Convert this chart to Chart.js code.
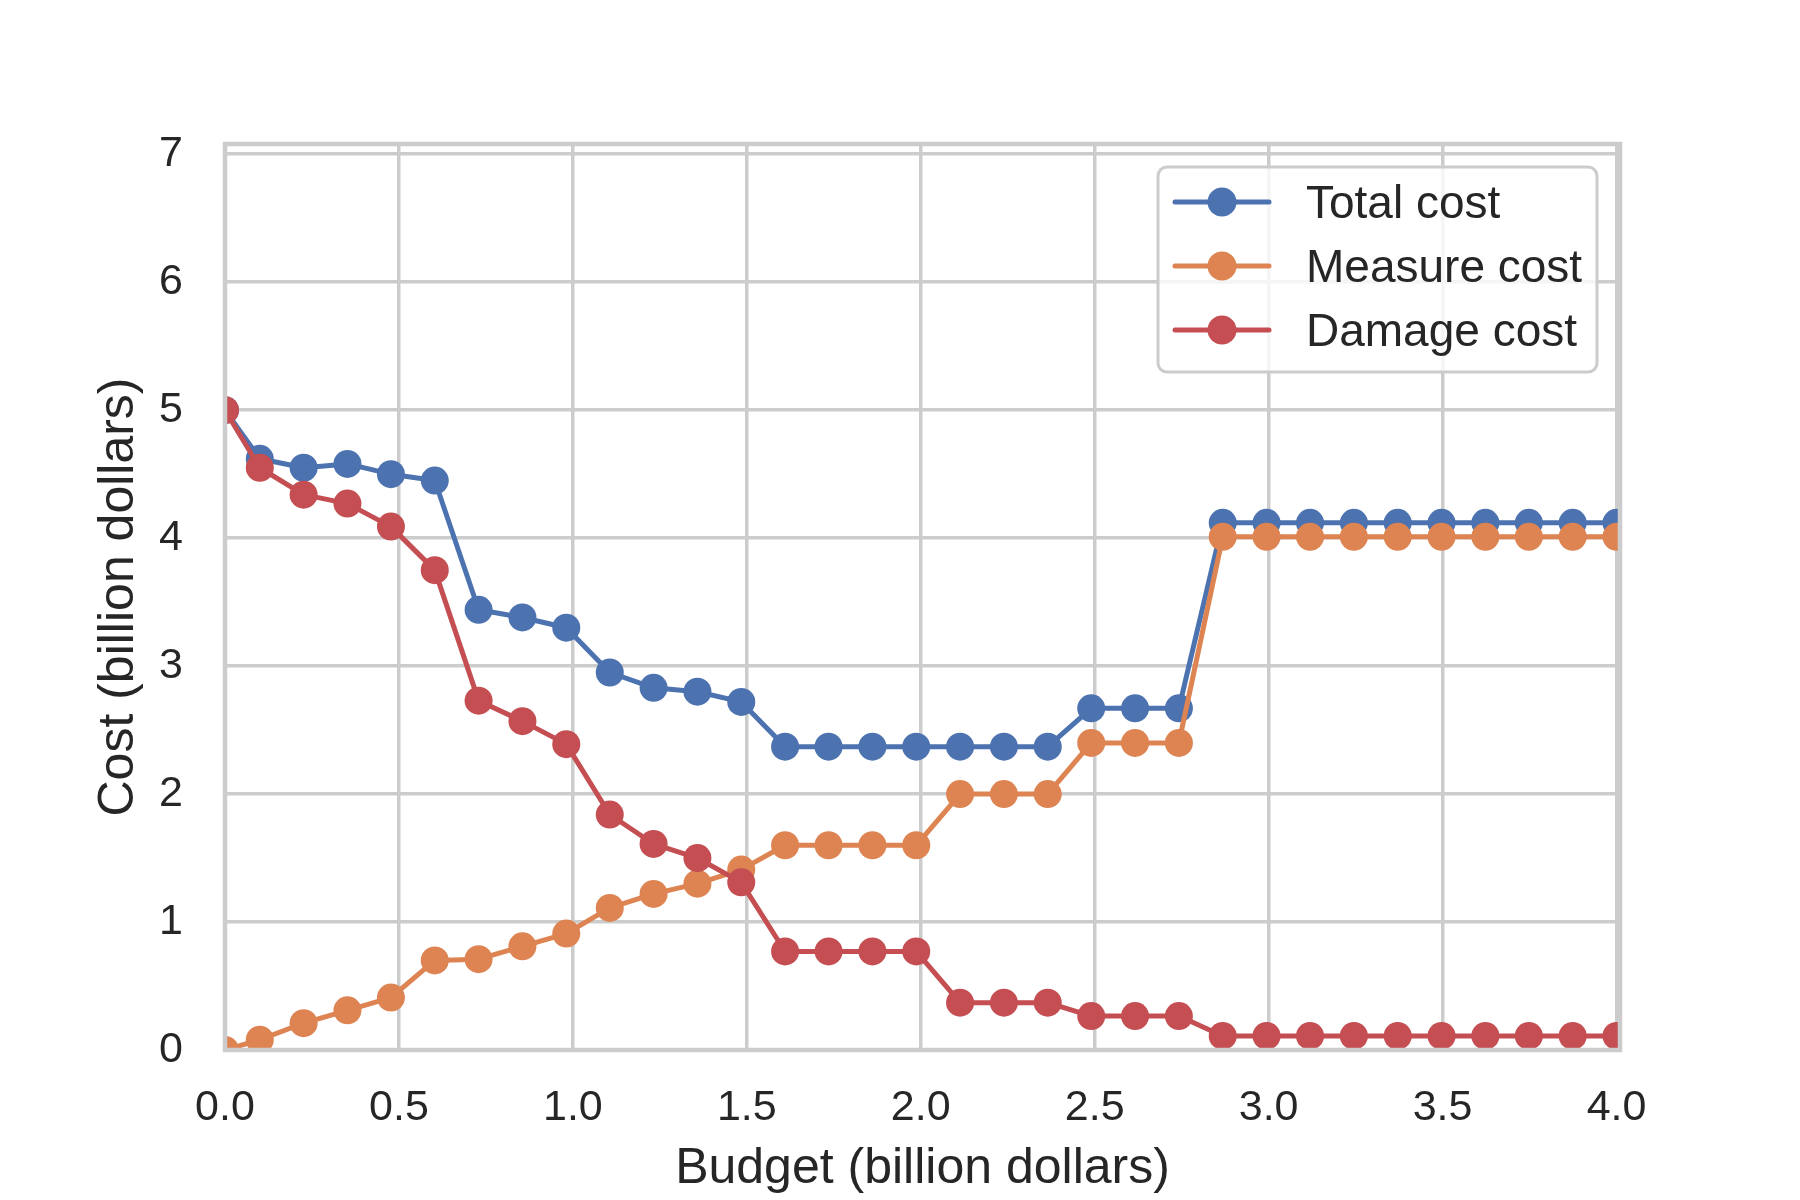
<!DOCTYPE html>
<html>
<head>
<meta charset="utf-8">
<script src="https://cdn.jsdelivr.net/npm/chart.js@4.4.1/dist/chart.umd.min.js"></script>
<style>
  html, body { margin: 0; padding: 0; background: #fff; }
  #wrap { width: 1800px; height: 1200px; }
</style>
</head>
<body>
<div id="wrap"><canvas id="chart" width="1800" height="1200"></canvas></div>
<script>
// budget steps (billion dollars)
const budget = [0, 0.1, 0.226, 0.352, 0.477, 0.603, 0.729, 0.855, 0.981, 1.106, 1.232,
  1.358, 1.484, 1.610, 1.735, 1.861, 1.987, 2.113, 2.239, 2.365, 2.490, 2.616, 2.742,
  2.868, 2.994, 3.119, 3.245, 3.371, 3.497, 3.623, 3.748, 3.874, 4.0];

const totalCost = [5.0, 4.62, 4.55, 4.58, 4.50, 4.45, 3.44, 3.38, 3.30, 2.95, 2.83,
  2.80, 2.72, 2.37, 2.37, 2.37, 2.37, 2.37, 2.37, 2.37, 2.67, 2.67, 2.67,
  4.12, 4.12, 4.12, 4.12, 4.12, 4.12, 4.12, 4.12, 4.12, 4.12];

const measureCost = [0.0, 0.08, 0.21, 0.31, 0.41, 0.70, 0.71, 0.81, 0.91, 1.11, 1.22,
  1.30, 1.41, 1.60, 1.60, 1.60, 1.60, 2.00, 2.00, 2.00, 2.40, 2.40, 2.40,
  4.01, 4.01, 4.01, 4.01, 4.01, 4.01, 4.01, 4.01, 4.01, 4.01];

const damageCost = [5.0, 4.55, 4.34, 4.27, 4.09, 3.75, 2.73, 2.57, 2.39, 1.84, 1.61,
  1.50, 1.31, 0.77, 0.77, 0.77, 0.77, 0.37, 0.37, 0.37, 0.265, 0.265, 0.265,
  0.11, 0.11, 0.11, 0.11, 0.11, 0.11, 0.11, 0.11, 0.11, 0.11];

const seriesNames = ['Total cost', 'Measure cost', 'Damage cost'];
const seriesColors = ['#4c72b0', '#dd8452', '#c44e52'];

const textColor = '#262626';
const gridColor = '#cccccc';

Chart.defaults.font.family = '"Liberation Sans", Arial, sans-serif';
Chart.defaults.color = textColor;

function makeSet(i, values) {
  return {
    label: seriesNames[i],
    data: budget.map((b, k) => ({ x: b, y: values[k] })),
    borderColor: seriesColors[i],
    backgroundColor: seriesColors[i],
    pointBackgroundColor: seriesColors[i],
    pointBorderWidth: 0,
    pointRadius: 14,
    pointHoverRadius: 14,
    borderWidth: 5,
    borderCapStyle: 'round',
    borderJoinStyle: 'round',
    tension: 0,
    clip: 0,
    order: 3 - i
  };
}

// spines on all four sides (light grey, seaborn whitegrid look)
const frame = {
  id: 'frame',
  afterDatasetsDraw(chart) {
    const { ctx, chartArea: a } = chart;
    ctx.save();
    ctx.strokeStyle = gridColor;
    ctx.lineWidth = 4.5;
    ctx.strokeRect(a.left, a.top, a.right - a.left, a.bottom - a.top);
    ctx.restore();
  }
};

// matplotlib-like legend: line with a dot, inside upper right
const boxLegend = {
  id: 'boxLegend',
  afterDraw(chart) {
    const { ctx, chartArea: a } = chart;
    const w = 439, h = 205;
    const left = a.right - 23 - w;
    const top = a.top + 23;
    ctx.save();
    ctx.beginPath();
    ctx.roundRect(left, top, w, h, 9);
    ctx.fillStyle = 'rgba(255,255,255,0.8)';
    ctx.fill();
    ctx.strokeStyle = gridColor;
    ctx.lineWidth = 3;
    ctx.stroke();

    ctx.font = '46px "Liberation Sans", Arial, sans-serif';
    ctx.textBaseline = 'middle';
    ctx.textAlign = 'left';
    seriesNames.forEach((name, i) => {
      const y = top + 35 + i * 64;
      ctx.strokeStyle = seriesColors[i];
      ctx.lineWidth = 5;
      ctx.lineCap = 'round';
      ctx.beginPath();
      ctx.moveTo(left + 17, y);
      ctx.lineTo(left + 111, y);
      ctx.stroke();
      ctx.fillStyle = seriesColors[i];
      ctx.beginPath();
      ctx.arc(left + 64, y, 14.5, 0, Math.PI * 2);
      ctx.fill();
      ctx.fillStyle = textColor;
      ctx.fillText(name, left + 148, y + 3);
    });
    ctx.restore();
  }
};

new Chart(document.getElementById('chart'), {
  type: 'line',
  data: {
    datasets: [
      makeSet(0, totalCost),
      makeSet(1, measureCost),
      makeSet(2, damageCost)
    ]
  },
  options: {
    responsive: false,
    animation: false,
    events: [],
    layout: { padding: { top: 144, right: 180, left: 0, bottom: 0 } },
    plugins: {
      legend: { display: false },
      tooltip: { enabled: false }
    },
    scales: {
      x: {
        type: 'linear',
        min: 0,
        max: 4.01,
        afterFit(s) { s.height = 150; },
        border: { display: false },
        grid: { color: gridColor, lineWidth: 3.5, drawTicks: false },
        ticks: {
          stepSize: 0.5,
          includeBounds: false,
          padding: 32,
          font: { size: 43 },
          color: textColor,
          callback: v => v.toFixed(1)
        },
        title: {
          display: true,
          text: 'Budget (billion dollars)',
          font: { size: 50 },
          color: textColor,
          padding: { top: 0, bottom: 1 }
        }
      },
      y: {
        min: 0,
        max: 7.08,
        afterFit(s) { s.width = 225; },
        border: { display: false },
        grid: { color: gridColor, lineWidth: 3.5, drawTicks: false },
        ticks: {
          stepSize: 1,
          includeBounds: false,
          padding: 42,
          font: { size: 43 },
          color: textColor
        },
        title: {
          display: true,
          text: 'Cost (billion dollars)',
          font: { size: 50 },
          color: textColor,
          padding: { top: 89, bottom: 0 }
        }
      }
    }
  },
  plugins: [frame, boxLegend]
});
</script>
</body>
</html>
